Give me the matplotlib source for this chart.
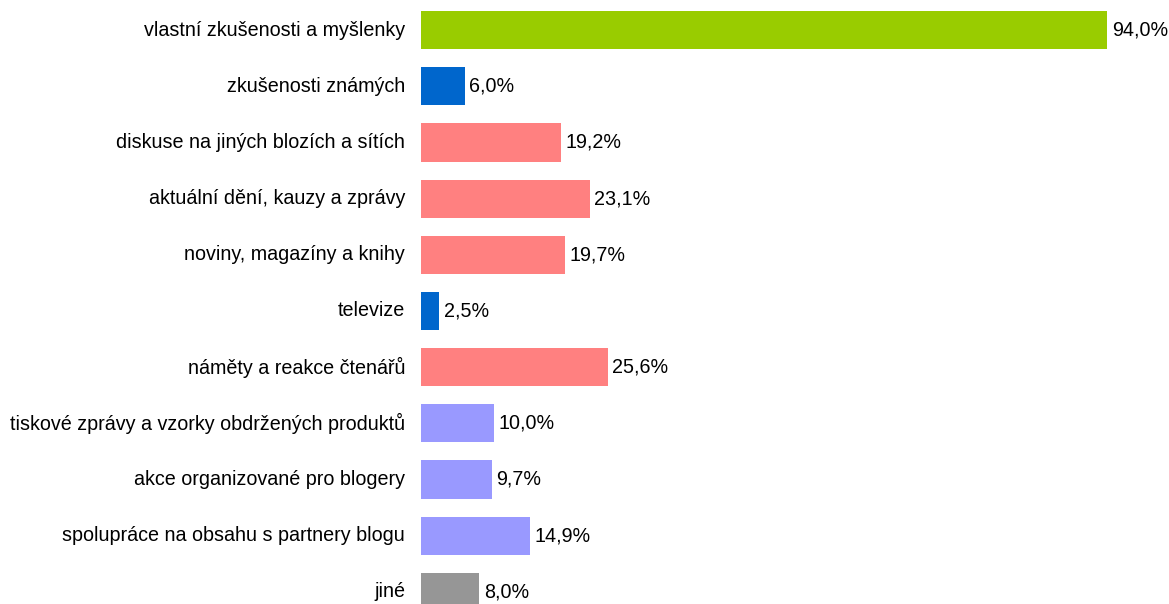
import matplotlib
matplotlib.use("Agg")
import matplotlib.pyplot as plt

categories = [
    "vlastní zkušenosti a myšlenky",
    "zkušenosti známých",
    "diskuse na jiných blozích a sítích",
    "aktuální dění, kauzy a zprávy",
    "noviny, magazíny a knihy",
    "televize",
    "náměty a reakce čtenářů",
    "tiskové zprávy a vzorky obdržených produktů",
    "akce organizované pro blogery",
    "spolupráce na obsahu s partnery blogu",
    "jiné",
]
values = [94.0, 6.0, 19.2, 23.1, 19.7, 2.5, 25.6, 10.0, 9.7, 14.9, 8.0]
colors = ["#99CC00", "#0066CC", "#FF8080", "#FF8080", "#FF8080", "#0066CC",
          "#FF8080", "#9999FF", "#9999FF", "#9999FF", "#969696"]

plt.rcParams['font.family'] = ['Liberation Sans', 'DejaVu Sans']

W, H = 1169, 604
fig = plt.figure(figsize=(W / 100, H / 100), dpi=100)
ax = fig.add_axes([421 / W, 0, 730 / W, 1])

pos = list(range(len(categories)))
ax.barh(pos, values, height=0.68, color=colors)

for y, v in zip(pos, values):
    ax.annotate(f"{v:.1f}%".replace(".", ","), (v, y), xytext=(3.2, 0),
                textcoords="offset points", va="center", ha="left", fontsize=14.2)
    ax.annotate(categories[y], (0, y), xytext=(-11.5, 0),
                textcoords="offset points", va="center", ha="right", fontsize=14.2)

ax.set_xlim(0, 100)
ax.set_ylim(10.217, -0.536)
ax.axis("off")

fig.savefig("out.png", dpi=100)
